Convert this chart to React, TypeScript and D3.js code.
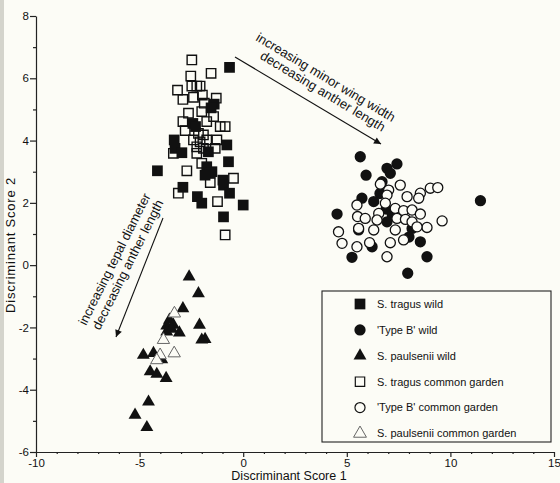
import React, { useEffect, useRef } from 'react';
import * as d3 from 'd3';

// discriminant scores: [score 1, score 2]
const tragusWild: [number, number][] = [
  [-0.66, 6.35], [-1.4, 5.17], [-1.55, 5.05], [-2.43, 4.55], [-2.3, 4.45], [-3.33, 4.02],
  [-3.29, 3.75], [-2.96, 3.61], [-4.14, 3.03], [-1.68, 3.64], [-0.79, 3.86], [-0.71, 3.32],
  [-1.76, 3.16], [-1.51, 3.0], [-1.6, 2.95], [-1.84, 2.89], [-0.98, 2.73], [-0.95, 2.57],
  [-2.91, 2.5], [-0.66, 2.31], [-2.21, 2.2], [-2.0, 1.99], [0.0, 1.93], [-0.95, 1.55],
];
const typeBWild: [number, number][] = [
  [5.65, 3.48], [7.42, 3.25], [6.94, 3.11], [7.1, 2.95], [5.93, 2.89], [6.7, 2.68],
  [6.6, 2.3], [11.45, 2.07], [5.73, 2.15], [6.3, 2.04], [6.9, 1.8], [4.53, 1.64],
  [7.2, 1.6], [6.94, 1.39], [5.57, 1.13], [8.15, 1.18], [8.0, 0.9], [6.22, 0.59],
  [8.55, 0.75], [5.25, 0.25], [8.87, 0.27], [7.94, -0.26],
];
const paulseniiWild: [number, number][] = [
  [-2.61, -0.37], [-2.16, -0.91], [-2.91, -1.39], [-2.11, -1.92], [-2.0, -2.4], [-1.84, -2.38],
  [-3.56, -1.76], [-3.69, -1.95], [-3.37, -1.92], [-3.08, -2.17], [-3.69, -2.14], [-3.45, -2.05],
  [-4.82, -2.89], [-4.33, -2.83], [-3.93, -3.03], [-4.49, -3.42], [-4.17, -3.5], [-3.72, -3.63],
  [-4.57, -4.39], [-5.22, -4.81], [-4.65, -5.21],
];
const tragusGarden: [number, number][] = [
  [-2.48, 6.59], [-2.53, 6.07], [-1.55, 6.16], [-3.17, 5.62], [-2.48, 5.75], [-2.24, 5.75],
  [-2.08, 5.75], [-2.91, 5.32], [-2.4, 5.39], [-1.97, 5.46], [-1.88, 5.2], [-1.3, 5.36],
  [-2.64, 4.88], [-2.0, 4.93], [-1.43, 4.77], [-2.91, 4.61], [-1.76, 4.61], [-1.11, 4.45],
  [-0.87, 4.45], [-2.8, 4.32], [-2.16, 4.23], [-1.92, 4.18], [-2.4, 4.02], [-2.08, 3.96],
  [-1.76, 4.02], [-1.27, 4.02], [-2.24, 3.8], [-1.92, 3.75], [-1.35, 3.75], [-2.24, 3.59],
  [-3.37, 3.59], [-2.72, 3.03], [-2.0, 3.27], [-0.47, 2.79], [-1.59, 2.65], [-3.13, 2.31],
  [-1.24, 2.04], [-0.87, 0.97],
];
const typeBGarden: [number, number][] = [
  [6.62, 2.6], [7.58, 2.57], [7.02, 2.41], [9.03, 2.47], [9.39, 2.49], [6.94, 2.25],
  [7.91, 2.2], [8.55, 2.31], [8.47, 2.15], [5.49, 1.93], [6.86, 1.99], [7.34, 1.82],
  [7.74, 1.75], [8.15, 1.77], [8.55, 1.64], [5.52, 1.56], [5.89, 1.5], [6.54, 1.66],
  [6.46, 1.45], [7.42, 1.5], [7.83, 1.47], [8.15, 1.39], [9.6, 1.42], [8.87, 1.21],
  [8.39, 1.23], [7.34, 1.13], [6.3, 1.13], [5.57, 1.18], [4.6, 1.07], [4.77, 0.7],
  [5.49, 0.59], [7.1, 0.72], [7.74, 0.81], [6.94, 0.27], [6.1, 0.72],
];
const paulseniiGarden: [number, number][] = [
  [-3.32, -1.55], [-3.85, -2.4], [-4.01, -2.89], [-4.17, -3.05], [-3.33, -2.83],
];

const xTicks = [-10, -5, 0, 5, 10, 15];
const yTicks = [-6, -4, -2, 0, 2, 4, 6, 8];
const legendLabels = [
  'S. tragus wild',
  "'Type B' wild",
  'S. paulsenii wild',
  'S. tragus common garden',
  "'Type B' common garden",
  'S. paulsenii common garden',
];

const FONT = "'Liberation Sans', Arial, Helvetica, sans-serif";
const BG = '#fcfcf6';

const App = () => {
  const ref = useRef<SVGSVGElement>(null);

  useEffect(() => {
    const svg = d3.select(ref.current);
    svg.selectAll('*').remove();

    const x = d3.scaleLinear().domain([-10, 15]).range([36, 554]);
    const y = d3.scaleLinear().domain([-6, 8]).range([452, 16]);

    svg.append('rect').attr('width', 560).attr('height', 483).attr('fill', BG);
    svg.append('rect').attr('width', 4).attr('height', 483).attr('fill', '#d4d4cc');

    // axes
    const yAxis = svg.append('g').attr('transform', `translate(${x(-10)},0)`)
      .call(d3.axisLeft(y).tickValues(yTicks).tickSize(6).tickSizeOuter(0).tickPadding(1).tickFormat(d => String(d)));
    svg.append('g').attr('transform', `translate(${x(-10)},0)`)
      .call(d3.axisLeft(y).tickValues(d3.range(-5, 8, 2)).tickSize(3).tickSizeOuter(0).tickFormat(() => ''))
      .select('.domain').remove();
    const xAxis = svg.append('g').attr('transform', `translate(0,${y(-6)})`)
      .call(d3.axisBottom(x).tickValues(xTicks).tickSize(5).tickSizeOuter(0).tickPadding(2).tickFormat(d => String(d)));
    svg.append('g').attr('transform', `translate(0,${y(-6)})`)
      .call(d3.axisBottom(x).tickValues(d3.range(-9, 15).filter(v => v % 5 !== 0)).tickSize(2).tickSizeOuter(0).tickFormat(() => ''))
      .select('.domain').remove();

    svg.selectAll('.domain, .tick line').attr('stroke', '#222').attr('stroke-width', 1.2);
    [yAxis, xAxis].forEach(a => a.selectAll('text')
      .style('font-family', FONT).style('font-size', '11.5px').attr('fill', '#111'));

    svg.append('text')
      .attr('transform', `translate(15,245) rotate(-90)`)
      .attr('text-anchor', 'middle')
      .style('font-family', FONT).style('font-size', '13px').style('letter-spacing', '0.8px')
      .attr('fill', '#111')
      .text('Discriminant Score 2');
    svg.append('text')
      .attr('x', 289).attr('y', 480)
      .attr('text-anchor', 'middle')
      .style('font-family', FONT).style('font-size', '12.5px').attr('fill', '#111')
      .text('Discriminant Score 1');

    // markers
    const sq = d3.symbol().type(d3.symbolSquare);
    const ci = d3.symbol().type(d3.symbolCircle);
    const tr = d3.symbol().type(d3.symbolTriangle);

    const draw = (data: [number, number][], gen: any, size: number, fill: string, stroke: string, sw: number) => {
      svg.append('g').selectAll('path')
        .data(data)
        .join('path')
        .attr('transform', d => `translate(${x(d[0])},${y(d[1])})`)
        .attr('d', gen.size(size)())
        .attr('fill', fill)
        .attr('stroke', stroke)
        .attr('stroke-width', sw);
    };

    draw(tragusGarden, sq, 88, 'none', '#111', 1.4);
    draw(tragusWild, sq, 115, '#111', 'none', 0);
    draw(typeBWild, ci, 100, '#111', 'none', 0);
    draw(typeBGarden, ci, 80, BG, '#111', 1.3);
    draw(paulseniiWild, tr, 72, '#111', 'none', 0);
    draw(paulseniiGarden, tr, 66, BG, '#666', 1);

    // annotation arrows
    const defs = svg.append('defs');
    defs.append('marker')
      .attr('id', 'head')
      .attr('viewBox', '0 0 10 10')
      .attr('refX', 10).attr('refY', 5)
      .attr('markerWidth', 9).attr('markerHeight', 7)
      .attr('markerUnits', 'userSpaceOnUse')
      .attr('orient', 'auto')
      .append('path').attr('d', 'M0,0L10,5L0,10Z').attr('fill', '#111');

    svg.append('line')
      .attr('x1', 235).attr('y1', 57).attr('x2', 381).attr('y2', 144)
      .attr('stroke', '#111').attr('stroke-width', 1.1).attr('marker-end', 'url(#head)');
    svg.append('line')
      .attr('x1', 163).attr('y1', 218).attr('x2', 116).attr('y2', 337)
      .attr('stroke', '#111').attr('stroke-width', 1.1).attr('marker-end', 'url(#head)');

    const note = (tx: number, ty: number, angle: number, gap: number, lines: [string, number][]) => {
      const g = svg.append('g').attr('transform', `translate(${tx},${ty}) rotate(${angle})`);
      lines.forEach(([t, dx], i) => {
        g.append('text')
          .attr('x', dx).attr('y', i * gap)
          .style('font-family', FONT).style('font-size', '13px').attr('fill', '#111')
          .text(t);
      });
    };
    note(255, 40, 31, 13.5, [['increasing minor wing width', 0], ['decreasing anther length', 13]]);
    note(86, 326, -63.5, 14.5, [['increasing tepal diameter', 0], ['decreasing anther length', 2]]);

    // legend
    const lg = svg.append('g');
    lg.append('rect')
      .attr('x', 322).attr('y', 291).attr('width', 229).attr('height', 151)
      .attr('fill', BG).attr('stroke', '#222').attr('stroke-width', 1.1);
    const legendStyles = [
      { gen: sq, size: 115, fill: '#111', stroke: 'none', sw: 0 },
      { gen: ci, size: 100, fill: '#111', stroke: 'none', sw: 0 },
      { gen: tr, size: 72, fill: '#111', stroke: 'none', sw: 0 },
      { gen: sq, size: 88, fill: 'none', stroke: '#111', sw: 1.2 },
      { gen: ci, size: 80, fill: 'none', stroke: '#111', sw: 1.2 },
      { gen: tr, size: 72, fill: 'none', stroke: '#555', sw: 0.9 },
    ];
    legendLabels.forEach((label, i) => {
      const cy = 304 + i * 25.9;
      const s = legendStyles[i];
      lg.append('path')
        .attr('transform', `translate(360,${cy})`)
        .attr('d', s.gen.size(s.size)())
        .attr('fill', s.fill).attr('stroke', s.stroke).attr('stroke-width', s.sw);
      lg.append('text')
        .attr('x', 377).attr('y', cy).attr('dy', '0.35em')
        .style('font-family', FONT).style('font-size', '11px').attr('fill', '#111')
        .text(label);
    });
  }, []);

  return (
    <div style={{ position: 'fixed', left: 0, top: 0 }}>
      <svg ref={ref} width={560} height={483} style={{ display: 'block' }} />
    </div>
  );
};

export default App;
